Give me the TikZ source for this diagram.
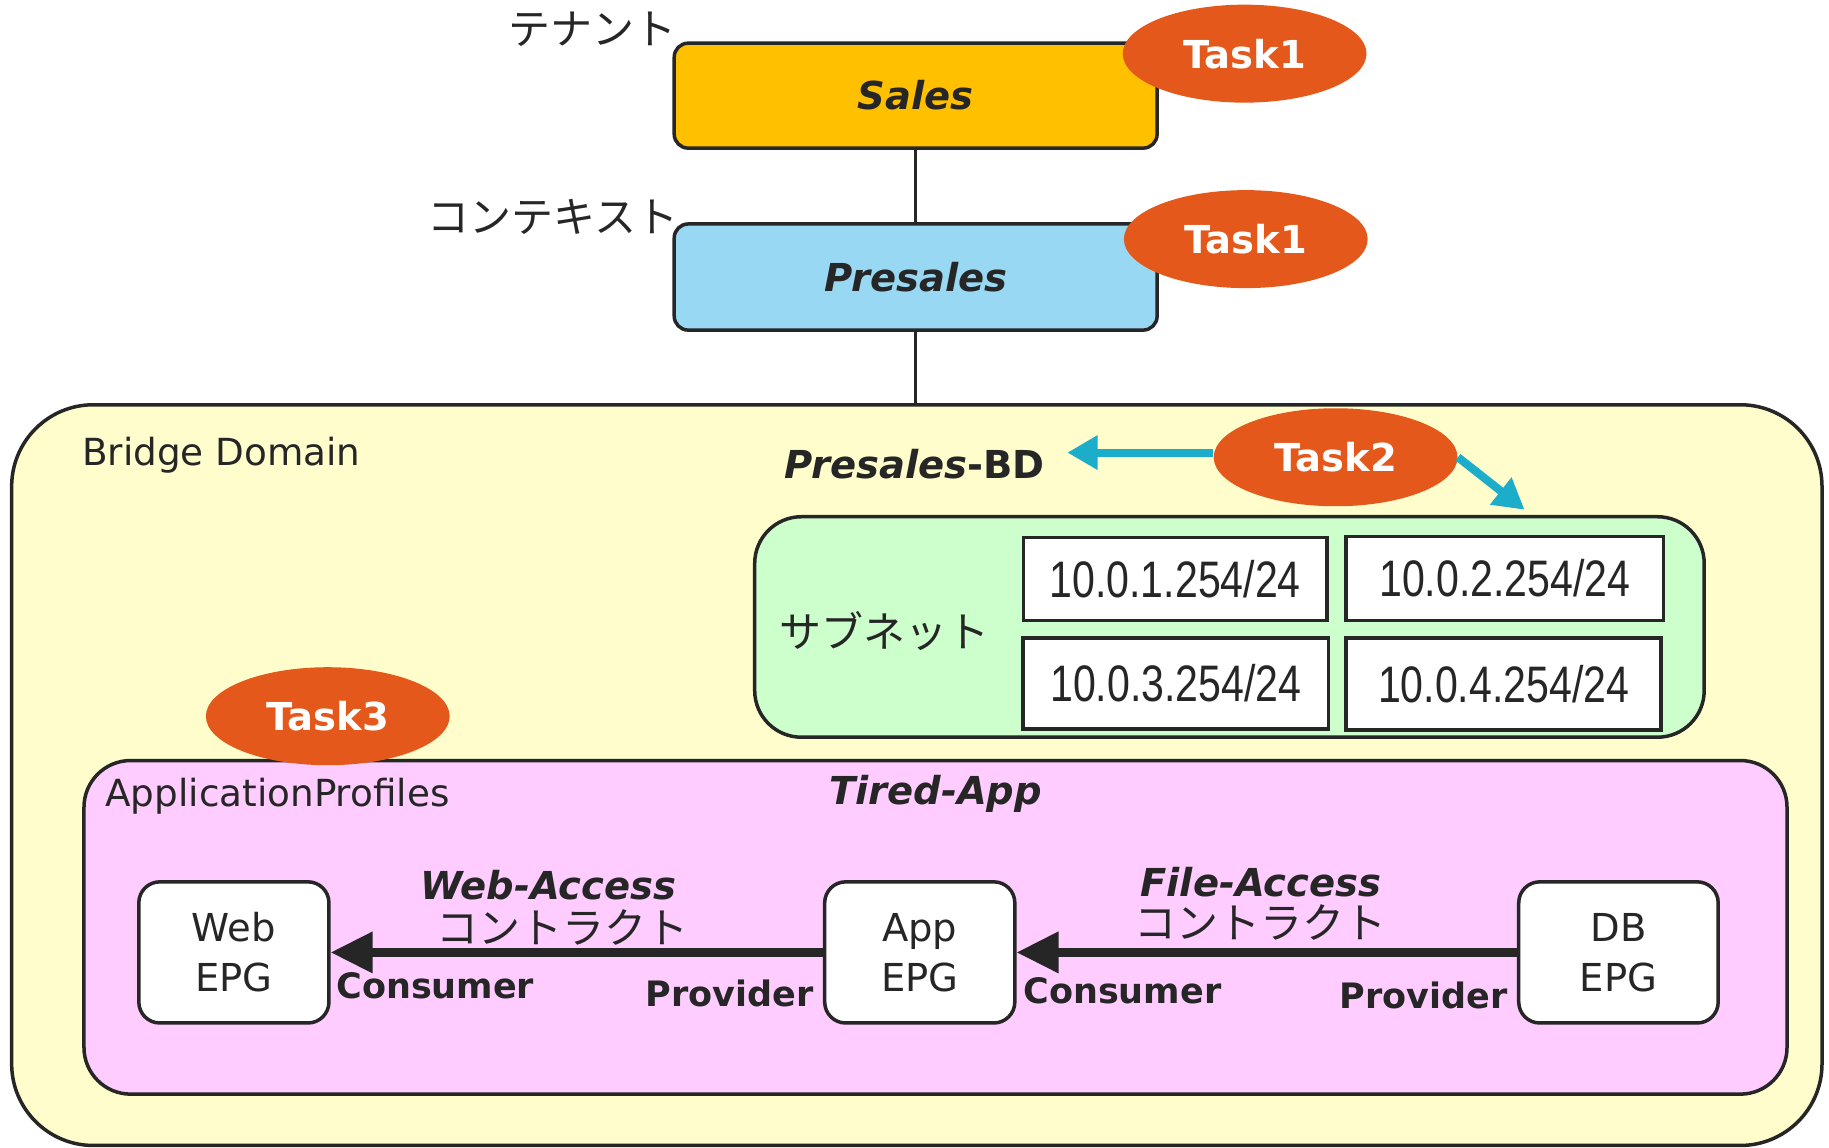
\documentclass[tikz,border=0pt]{standalone}
\usepackage{fontspec}
\setmainfont{DejaVu Sans}[
  BoldFont={DejaVu Sans Bold},
  ItalicFont={DejaVu Sans Oblique},
  BoldItalicFont={DejaVu Sans Bold Oblique}]
\newfontfamily\jpfont{Noto Sans CJK JP}
\newfontfamily\ipfont[FakeStretch=0.8]{Liberation Sans}
\usetikzlibrary{shapes.geometric,arrows.meta}

\definecolor{ink}{HTML}{262626}
\definecolor{tenantfill}{HTML}{FFC000}
\definecolor{ctxfill}{HTML}{99D8F2}
\definecolor{bdfill}{HTML}{FFFDCC}
\definecolor{subfill}{HTML}{CCFFCC}
\definecolor{apfill}{HTML}{FFCCFF}
\definecolor{taskfill}{HTML}{E5581B}
\definecolor{taskline}{HTML}{1BADCA}

\begin{document}
\begin{tikzpicture}[x=0.5pt,y=-0.5pt,
  every node/.style={text=ink, inner sep=0pt},
  obj/.style={draw=ink, line width=1.5pt, rounded corners=6pt,
    font=\fontsize{16.5}{20}\selectfont\bfseries\itshape},
  group/.style={draw=ink, line width=1.5pt, rounded corners=20pt},
  subnet/.style={draw=ink, line width=1.5pt, fill=white,
    font=\fontsize{22}{24}\selectfont\ipfont},
  epg/.style={draw=ink, line width=1.5pt, fill=white, rounded corners=9pt,
    align=center, minimum width=81.5pt, minimum height=60.5pt,
    font=\fontsize{16.5}{21.5}\selectfont},
  task/.style={ellipse, fill=taskfill, minimum width=104.5pt, minimum height=42pt,
    text=white, font=\fontsize{16.5}{18}\selectfont\bfseries},
  taskarrow/.style={draw=taskline, line width=3.5pt,
    -{Triangle[length=13pt,width=14pt]}},
  contract/.style={draw=ink, line width=3.5pt,
    -{Triangle[length=18pt,width=17pt]}},
  jp/.style={font=\fontsize{18}{20}\selectfont\jpfont},
  lbl/.style={font=\fontsize{16}{20}\selectfont},
  role/.style={font=\fontsize{15}{18}\selectfont\bfseries},
  cname/.style={font=\fontsize{16.5}{20}\selectfont\bfseries\itshape}
]
\useasboundingbox (0,0) rectangle (1568,984);

\node[obj, fill=tenantfill, minimum width=207pt, minimum height=45pt] (sales) at (785,82) {Sales};
\node[obj, fill=ctxfill, minimum width=207pt, minimum height=45.5pt] (presales) at (785,237.5) {Presales};
\node[jp, anchor=east] (tenantlbl) at (580,25) {テナント};
\node[jp, anchor=east] (ctxlbl) at (582,186) {コンテキスト};

\node[group, rounded corners=35pt, fill=bdfill, minimum width=776pt, minimum height=317.5pt] (bd) at (786,664.5) {};
\node[lbl, anchor=west] (bdlbl) at (70,390) {Bridge Domain};
\node[cname] (bdname) at (784,398) {Presales\textup{-BD}};

\node[group, fill=subfill, minimum width=407pt, minimum height=94.5pt] (sub) at (1054,537.5) {};
\node[jp, anchor=west] (sublbl) at (668,541) {サブネット};
\node[subnet, minimum width=130pt, minimum height=35.5pt] (s1) at (1007.5,496.5) {10.0.1.254/24};
\node[subnet, minimum width=136pt, minimum height=36pt] (s2) at (1290,496) {10.0.2.254/24};
\node[subnet, minimum width=131pt, minimum height=39pt] (s3) at (1008,586) {10.0.3.254/24};
\node[subnet, minimum width=135pt, minimum height=39.5pt] (s4) at (1289,586.5) {10.0.4.254/24};

\node[group, fill=apfill, minimum width=730pt, minimum height=143pt] (ap) at (802,795) {};
\node[lbl, anchor=west] (aplbl) at (90,683) {ApplicationProfiles};
\node[cname] (apname) at (802,681) {Tired-App};

\node[epg] (web) at (200.5,816.5) {Web\\EPG};
\node[epg] (app) at (788.5,816.5) {App\\EPG};
\node[epg, minimum width=85.5pt] (db) at (1387.5,816.5) {DB\\EPG};

\node[cname] (webc) at (470,759) {Web-Access};
\node[jp] (webcj) at (482,795) {コントラクト};
\node[cname] (filec) at (1081,756) {File-Access};
\node[jp] (filecj) at (1081,791) {コントラクト};
\node[role, anchor=west] (cons1) at (288,845) {Consumer};
\node[role, anchor=east] (prov1) at (698,852) {Provider};
\node[role, anchor=west] (cons2) at (877,849) {Consumer};
\node[role, anchor=east] (prov2) at (1293,853) {Provider};

\node[task] (t1a) at (1067,46) {Task1};
\node[task] (t1b) at (1068,205) {Task1};
\node[task] (t2) at (1145,392) {Task2};
\node[task] (t3) at (281,614) {Task3};

\coordinate (bdtip) at (915,388);
\coordinate (subtip) at (1307,437);

\draw[ink, line width=1.5pt] (sales) -- (presales);
\draw[ink, line width=1.5pt] (presales.south) -- (presales.south |- bd.north);
\draw[taskarrow] (t2.west |- bdtip) -- (bdtip);
\draw[taskarrow] (t2.east) -- (subtip);
\draw[contract] (app) -- (web);
\draw[contract] (db) -- (app);
\end{tikzpicture}
\end{document}
